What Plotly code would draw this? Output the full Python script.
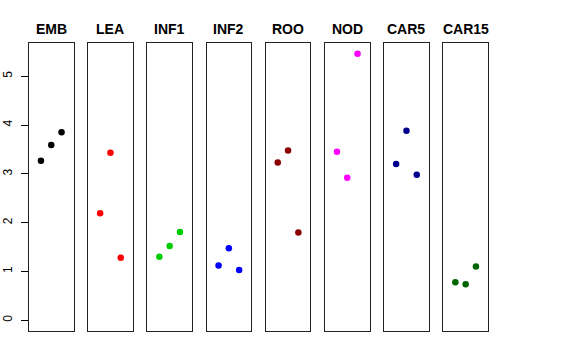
import plotly.graph_objects as go

categories = ["EMB", "LEA", "INF1", "INF2", "ROO", "NOD", "CAR5", "CAR15"]
colors = ["#000000", "#FF0000", "#00CD00", "#0000FF", "#8B0000", "#FF00FF", "#00008B", "#006400"]
x_pos = [1, 2, 3]
values = {
    "EMB": [3.27, 3.59, 3.85],
    "LEA": [2.19, 3.43, 1.28],
    "INF1": [1.30, 1.52, 1.81],
    "INF2": [1.12, 1.475, 1.03],
    "ROO": [3.23, 3.48, 1.80],
    "NOD": [3.45, 2.92, 5.46],
    "CAR5": [3.20, 3.88, 2.98],
    "CAR15": [0.78, 0.74, 1.10],
}
y_ticks = [0, 1, 2, 3, 4, 5]

W, H = 576, 360
left0, pw, step = 29.0, 44.5, 59.2
top, bottom = 43.0, 331.0

fig = go.Figure()
layout = dict(
    width=W, height=H, margin=dict(l=0, r=0, t=0, b=0, autoexpand=False),
    paper_bgcolor="white", plot_bgcolor="white", showlegend=False,
    font=dict(family="Liberation Sans, Arial, sans-serif", color="black"),
)
annotations = []
for i, cat in enumerate(categories):
    n = "" if i == 0 else str(i + 1)
    x0 = left0 + i * step
    x1 = x0 + pw
    fig.add_trace(go.Scatter(
        x=x_pos, y=values[cat], mode="markers",
        marker=dict(color=colors[i], size=6.5, line=dict(width=0)),
        xaxis="x" + n, yaxis="y" + n, hoverinfo="skip",
    ))
    layout["xaxis" + n] = dict(
        domain=[x0 / W, x1 / W], anchor="y" + n, range=[-0.16, 4.16],
        showgrid=False, zeroline=False, showticklabels=False, ticks="",
        showline=True, mirror=True, linecolor="#222222", linewidth=1,
        automargin=False,
    )
    ya = dict(
        domain=[1 - bottom / H, 1 - top / H], anchor="x" + n, range=[-0.22, 5.68],
        showgrid=False, zeroline=False, automargin=False,
        showline=True, mirror=True, linecolor="#222222", linewidth=1,
    )
    if i == 0:
        ya.update(tickmode="array", tickvals=y_ticks, ticktext=[str(t) for t in y_ticks],
                  ticks="outside", ticklen=7, tickcolor="black", tickwidth=1,
                  tickangle=-90, tickfont=dict(size=12, color="black"),
                  ticklabelstandoff=4)
    else:
        ya.update(showticklabels=False, ticks="")
    layout["yaxis" + n] = ya
    annotations.append(dict(
        x=(x0 + x1) / 2 / W, y=1 - 29 / H, xref="paper", yref="paper",
        text="<b>" + cat + "</b>", showarrow=False,
        font=dict(size=14, color="black", family="Liberation Sans, Arial, sans-serif"),
        xanchor="center", yanchor="middle",
    ))
layout["annotations"] = annotations
fig.update_layout(**layout)
fig.write_html("out.html", config={"displayModeBar": False, "staticPlot": True},
               post_script="document.body.style.margin='0';document.body.style.padding='0';")
